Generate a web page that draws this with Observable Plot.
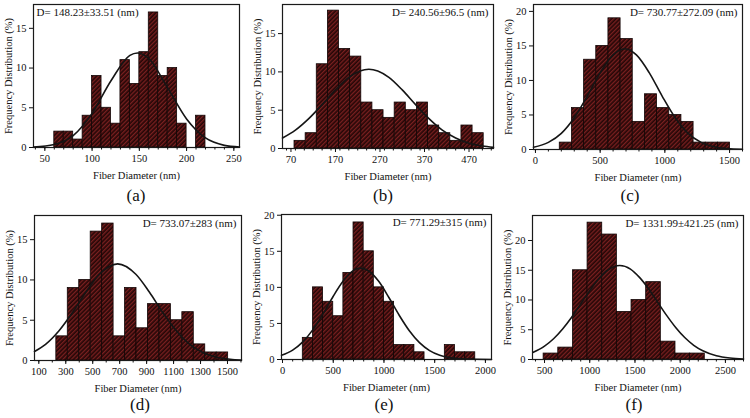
<!DOCTYPE html>
<html>
<head>
<meta charset="utf-8">
<script src="https://cdn.jsdelivr.net/npm/d3@7"></script>
<script src="https://cdn.jsdelivr.net/npm/@observablehq/plot@0.6"></script>
<style>
  html, body { margin: 0; padding: 0; background: #fff; }
  #root { position: relative; width: 750px; height: 418px; overflow: hidden; font-family: "Liberation Serif", "Times New Roman", serif; color: #111; }
  .panel { position: absolute; }
  .tag { position: absolute; font-size: 17px; transform: translate(-50%, -50%); white-space: nowrap; }
</style>
</head>
<body>
<svg width="0" height="0" style="position:absolute">
  <defs>
    <pattern id="hatch" patternUnits="userSpaceOnUse" width="3" height="3" patternTransform="rotate(45)">
      <rect width="3" height="3" fill="#260707"></rect>
      <rect width="1.3" height="3" fill="#7a2020"></rect>
    </pattern>
  </defs>
</svg>
<div id="root"></div>
<script>
// ---------- (a) ----------
const aEdges  = [60,70,80,90,100,110,120,130,140,150,160,170,180,190,200,210,220];
const aCounts = [2,2,1,4,9,5,3,11,8,12,17,9,10,3,0,4];
const aCurveX = [38,60,80,100,120,140,148,160,180,200,220,240,256];
const aCurveY = [0.05,0.38,1.5,4.3,8.4,11.6,11.9,11.2,7.5,3.6,1.2,0.27,0.06];
const aXTicks = [50,100,150,200,250];
const aYTicks = [0,5,10,15];
const aNote = "D= 148.23±33.51 (nm)";

// ---------- (b) ----------
const bEdges  = [78,103,128,153,178,203,228,253,278,303,328,353,378,403,428,453,478,503];
const bCounts = [1,2,11,18,13,12,6,5,4,6,5,6,3,2,1,3,2];
const bCurveX = [51,80,110,140,170,200,225,245,265,290,320,350,380,410,440,470,500,525];
const bCurveY = [1.37,2.4,3.9,5.73,7.65,9.29,10.13,10.35,10.13,9.29,7.65,5.73,3.9,2.4,1.37,0.68,0.32,0.15];
const bXTicks = [70,170,270,370,470];
const bYTicks = [0,5,10,15];
const bNote = "D= 240.56±96.5 (nm)";

// ---------- (c) ----------
const cEdges  = [188,282,376,470,564,658,752,846,940,1034,1128,1222,1316,1410,1504];
const cCounts = [1,6,13,15,19,16,4,8,6,5,4,1,1,1];
const cCurveX = [-15,100,200,300,400,500,600,690,780,880,980,1080,1180,1280,1380,1480,1600];
const cCurveY = [0.33,1.03,2.34,4.6,7.7,11.1,13.7,14.6,13.7,11.1,7.7,4.6,2.34,1.03,0.39,0.13,0.03];
const cXTicks = [0,500,1000,1500];
const cYTicks = [0,5,10,15,20];
const cNote = "D= 730.77±272.09 (nm)";

// ---------- (d) ----------
const dEdges  = [230,315,400,485,570,655,740,825,910,995,1080,1165,1250,1335,1420,1505];
const dCounts = [3,9,10,16,17,3,9,4,7,7,5,6,2,1,1];
const dCurveX = [68,150,250,350,450,550,685,820,920,1020,1120,1220,1320,1420,1520,1604];
const dCurveY = [1.11,2.0,3.69,5.95,8.5,10.7,12.0,10.7,8.5,5.95,3.69,2.0,0.97,0.41,0.15,0.06];
const dXTicks = [100,300,500,700,900,1100,1300,1500];
const dYTicks = [0,5,10,15];
const dNote = "D= 733.07±283 (nm)";

// ---------- (e) ----------
const eEdges  = [200,300,400,500,600,700,800,900,1000,1100,1200,1300,1400,1500,1600,1700,1800,1900];
const eCounts = [3,10,8,6,12,19,15,10,8,2,2,1,0,0,2,1,1];
const eCurveX = [-10,100,200,300,400,500,600,700,771,850,950,1050,1150,1250,1350,1450,1550,1650,1800,2060];
const eCurveY = [0.59,1.31,2.45,4.14,6.33,8.77,10.9,12.35,12.67,12.27,10.8,8.56,6.14,3.99,2.34,1.24,0.59,0.26,0.06,0.01];
const eXTicks = [0,500,1000,1500,2000];
const eYTicks = [0,5,10,15,20];
const eNote = "D= 771.29±315 (nm)";

// ---------- (f) ----------
const fEdges  = [490,652,814,976,1138,1300,1462,1624,1786,1948,2110,2272];
const fCounts = [1,2,15,23,21,8,10,13,3,1,1];
const fCurveX = [370,500,600,700,800,900,1000,1100,1200,1332,1450,1550,1650,1750,1850,1950,2050,2150,2250,2400,2550,2700];
const fCurveY = [1.16,2.24,3.48,5.12,7.1,9.33,11.58,13.57,15.04,15.8,15.2,13.8,11.9,9.65,7.41,5.38,3.69,2.39,1.47,0.63,0.24,0.08];
const fXTicks = [500,1000,1500,2000,2500];
const fYTicks = [0,5,10,15,20];
const fNote = "D= 1331.99±421.25 (nm)";

const xTitle = "Fiber Diameter (nm)";
const yTitle = "Frequency Distribution (%)";
const tags = ["(a)","(b)","(c)","(d)","(e)","(f)"];

// layout (positions only)
const panels = [
  {edges:aEdges, counts:aCounts, cx:aCurveX, cy:aCurveY, xt:aXTicks, yt:aYTicks, note:aNote, xd:[38,256],  yd:[0,18],   minor:10,  left:0,   top:0,   w:250, h:205, m:[4,11,58,33], lo:31, noteAnchor:"top-left", tag:[136,196]},
  {edges:bEdges, counts:bCounts, cx:bCurveX, cy:bCurveY, xt:bXTicks, yt:bYTicks, note:bNote, xd:[51,525],  yd:[0,18.8], minor:20,  left:250, top:0,   w:250, h:205, m:[4,7,57,32],  lo:31, noteAnchor:"top-right", tag:[383,196]},
  {edges:cEdges, counts:cCounts, cx:cCurveX, cy:cCurveY, xt:cXTicks, yt:cYTicks, note:cNote, xd:[-15,1600],yd:[0,21],   minor:100, left:500, top:0,   w:250, h:205, m:[4,8,56,33],  lo:31, noteAnchor:"top-right", tag:[630,196]},
  {edges:dEdges, counts:dCounts, cx:dCurveX, cy:dCurveY, xt:dXTicks, yt:dYTicks, note:dNote, xd:[68,1604], yd:[0,18],   minor:100, left:0,   top:205, w:250, h:213, m:[10,9,58,34], lo:31, noteAnchor:"top-right", tag:[140,405]},
  {edges:eEdges, counts:eCounts, cx:eCurveX, cy:eCurveY, xt:eXTicks, yt:eYTicks, note:eNote, xd:[-10,2060],yd:[0,20.1], minor:100, left:250, top:205, w:250, h:213, m:[9,9,59,31],  lo:31, noteAnchor:"top-right", tag:[384,405]},
  {edges:fEdges, counts:fCounts, cx:fCurveX, cy:fCurveY, xt:fXTicks, yt:fYTicks, note:fNote, xd:[367,2700],yd:[0,24.2], minor:100, left:500, top:205, w:250, h:213, m:[10,7,59,32], lo:31, noteAnchor:"top-right", tag:[634,405]}
];

const root = document.getElementById("root");

panels.forEach((p, k) => {
  const bars = p.counts.map((c, i) => ({x1: p.edges[i], x2: p.edges[i + 1], y: c})).filter(d => d.y > 0);
  const curve = p.cx.map((x, i) => ({x, y: p.cy[i]}));
  const lo = Math.ceil(p.xd[0] / p.minor) * p.minor;
  const minors = d3.range(lo, p.xd[1] + 1e-9, p.minor);
  const chart = Plot.plot({
    width: p.w,
    height: p.h,
    marginTop: p.m[0], marginRight: p.m[1], marginBottom: p.m[2], marginLeft: p.m[3],
    x: {domain: p.xd},
    y: {domain: p.yd},
    style: {fontFamily: '"Liberation Serif", "Times New Roman", serif', fontSize: "10.5px", color: "#111", background: "transparent", overflow: "visible"},
    marks: [
      Plot.rect(bars, {x1: "x1", x2: "x2", y1: 0, y2: "y", fill: "url(#hatch)", stroke: "#120505", strokeWidth: 0.8}),
      Plot.line(curve, {x: "x", y: "y", curve: "monotone-x", stroke: "#151515", strokeWidth: 1.6}),
      Plot.frame({stroke: "#1a1a1a", strokeWidth: 1.2}),
      Plot.axisX({ticks: minors, tickSize: 2.5, tickFormat: () => "", label: null}),
      Plot.axisX({ticks: p.xt, tickSize: 4, tickPadding: 3, fontSize: 10.5, tickFormat: d => String(d), label: xTitle, labelAnchor: "center", labelOffset: p.lo, labelArrow: "none"}),
      Plot.axisY({ticks: p.yt, tickSize: 4, tickPadding: 3, fontSize: 10.5, tickFormat: d => String(d), label: yTitle, labelAnchor: "center", labelOffset: 29, labelArrow: "none"}),
      Plot.text([p.note], {
        frameAnchor: p.noteAnchor,
        text: d => d,
        dx: p.noteAnchor === "top-left" ? 3 : -5,
        dy: 4,
        lineAnchor: "top",
        fontSize: 11,
        fill: "#111"
      })
    ]
  });
  const holder = document.createElement("div");
  holder.className = "panel";
  holder.style.left = p.left + "px";
  holder.style.top = p.top + "px";
  holder.appendChild(chart);
  root.appendChild(holder);

  const t = document.createElement("div");
  t.className = "tag";
  t.textContent = tags[k];
  t.style.left = p.tag[0] + "px";
  t.style.top = p.tag[1] + "px";
  root.appendChild(t);
});
</script>
</body>
</html>
